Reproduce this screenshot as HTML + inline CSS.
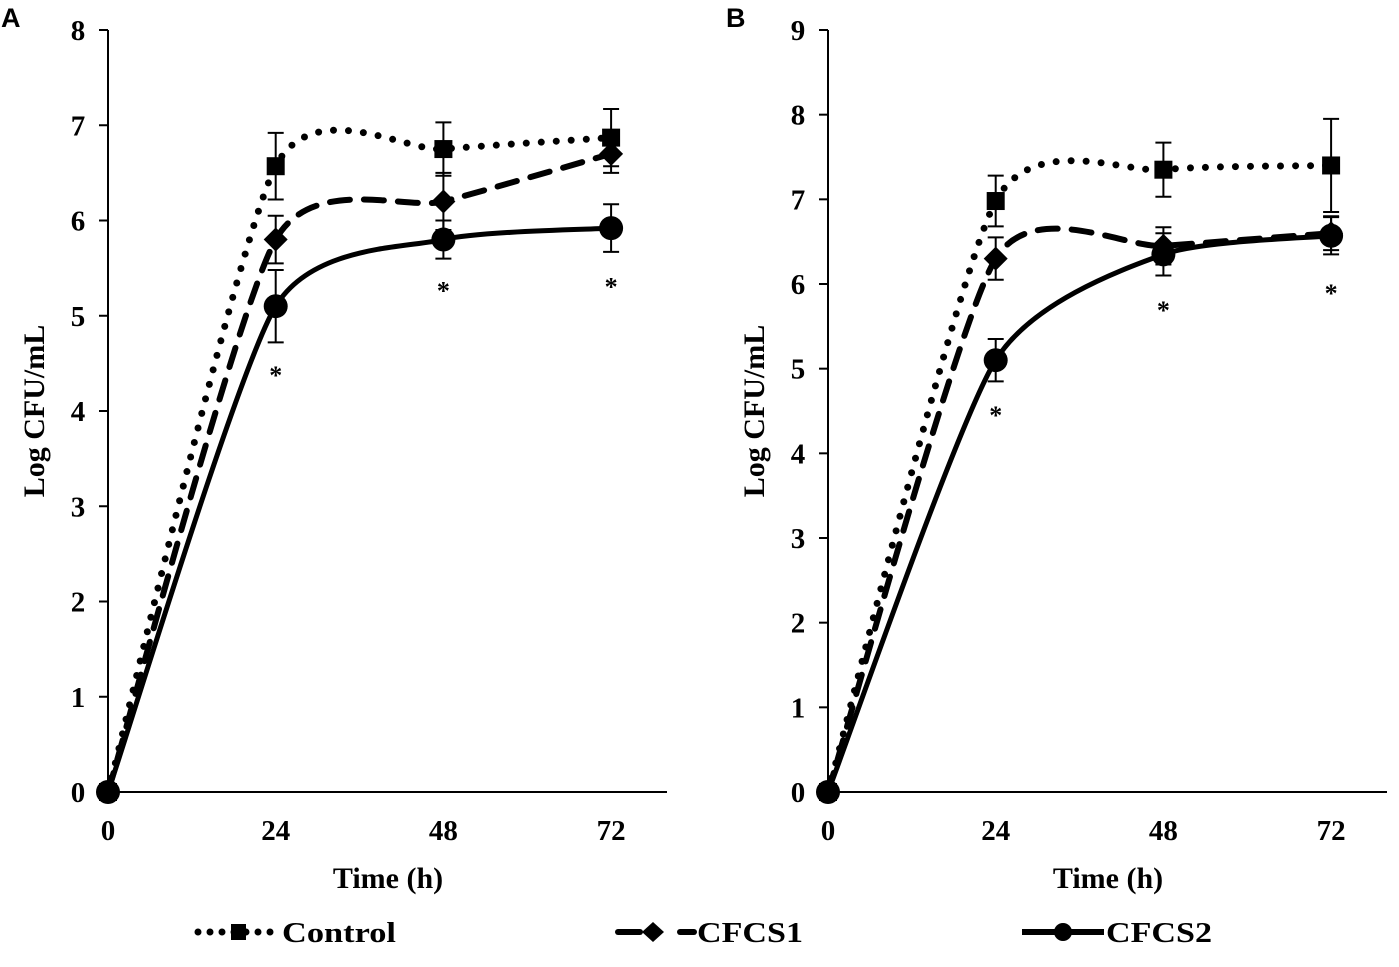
<!DOCTYPE html>
<html><head><meta charset="utf-8">
<style>
body{margin:0;background:#fff;}
svg text{font-family:"Liberation Serif",serif;font-weight:bold;fill:#000;}
</style></head>
<body>
<svg id="chart" width="1399" height="962" viewBox="0 0 1399 962" xmlns="http://www.w3.org/2000/svg">
<text x="1" y="27" style="font-family:'Liberation Sans',sans-serif;font-size:27px">A</text>
<text x="726" y="27" style="font-family:'Liberation Sans',sans-serif;font-size:27px">B</text>
<g id="legend">
  <g>
    <line x1="198" y1="932" x2="278" y2="932" stroke="#000" stroke-width="7" stroke-linecap="round" stroke-dasharray="0 12"/>
    <rect x="231" y="924" width="15" height="16" fill="#000"/>
    <text x="282" y="942" font-size="29" textLength="114" lengthAdjust="spacingAndGlyphs">Control</text>
  </g>
  <g>
    <line x1="618" y1="932" x2="640" y2="932" stroke="#000" stroke-width="6" stroke-linecap="round"/>
    <line x1="680" y1="932" x2="694" y2="932" stroke="#000" stroke-width="6" stroke-linecap="round"/>
    <path d="M653 922 L664 932 L653 942 L642 932 Z" fill="#000"/>
    <text x="697" y="942" font-size="29" textLength="106" lengthAdjust="spacingAndGlyphs">CFCS1</text>
  </g>
  <g>
    <line x1="1022" y1="932" x2="1104" y2="932" stroke="#000" stroke-width="6"/>
    <circle cx="1063" cy="932" r="9" fill="#000"/>
    <text x="1106" y="942" font-size="29" textLength="106" lengthAdjust="spacingAndGlyphs">CFCS2</text>
  </g>
</g>
</svg>
<script>
const times = [0, 24, 48, 72];
const xTicks = [0, 24, 48, 72];
const seriesNames = ["Control", "CFCS1", "CFCS2"];
const aControl = [0, 6.57, 6.75, 6.87];
const aControlErr = [0, 0.35, 0.28, 0.3];
const aCfcs1 = [0, 5.8, 6.2, 6.7];
const aCfcs1Err = [0, 0.25, 0.3, 0.2];
const aCfcs2 = [0, 5.1, 5.8, 5.92];
const aCfcs2Err = [0, 0.38, 0.2, 0.25];
const aStars = [4.43, 5.32, 5.36];
const bControl = [0, 6.98, 7.35, 7.4];
const bControlErr = [0, 0.3, 0.32, 0.55];
const bCfcs1 = [0, 6.3, 6.45, 6.6];
const bCfcs1Err = [0, 0.25, 0.22, 0.2];
const bCfcs2 = [0, 5.1, 6.35, 6.57];
const bCfcs2Err = [0, 0.25, 0.25, 0.22];
const bStars = [4.51, 5.75, 5.95];

const NS = "http://www.w3.org/2000/svg";
const svg = document.getElementById("chart");
function mk(tag, attrs, parent){
  const e = document.createElementNS(NS, tag);
  for (const k in attrs) e.setAttribute(k, attrs[k]);
  (parent || svg).appendChild(e);
  return e;
}
const styles = [
  {dash:"0 15", width:7, cap:"round", marker:"square"},
  {dash:"20 14", width:6, cap:"round", marker:"diamond"},
  {dash:"", width:5, cap:"butt", marker:"circle"}
];
const K = 1/9;
function drawPanel(id, x0, yMax, series, errs, stars){
  const left = x0, right = x0 + 559, top = 30, bottom = 792;
  const xs = t => left + (t / 80) * (right - left);
  const ys = v => bottom - (v / yMax) * (bottom - top);
  const g = mk("g", {});
  
  
  const ya = mk("line", {x1:left, y1:top, x2:left, y2:bottom, stroke:"#000", "stroke-width":2}, g);
  
  
  const xa = mk("line", {x1:left, y1:bottom, x2:right, y2:bottom, stroke:"#000", "stroke-width":2}, g);
  
  
  for (let v = 0; v <= yMax; v++){
    mk("line", {x1:left - 9, y1:ys(v), x2:left, y2:ys(v), stroke:"#000", "stroke-width":2}, g);
    const t = mk("text", {x:left - 30, y:ys(v) + 10, "font-size":29, "text-anchor":"middle"}, g);
    t.textContent = v;
    
    
  }
  xTicks.forEach(v => {
    const t = mk("text", {x:xs(v), y:840, "font-size":29, "text-anchor":"middle"}, g);
    t.textContent = v;
    
    
  });
  const xt = mk("text", {x:left + 280, y:888, "font-size":30, "text-anchor":"middle"}, g);
  xt.textContent = "Time (h)";
  
  
  const yt = mk("text", {x:0, y:0, "font-size":30, "text-anchor":"middle", transform:`translate(${left - 64},411) rotate(-90)`}, g);
  yt.textContent = "Log CFU/mL";
  
  

  series.forEach((vals, si) => {
    const st = styles[si];
    const P = vals.map((v, i) => [xs(times[i]), ys(v)]);
    let d = `M${P[0][0]},${P[0][1]}`;
    for (let i = 0; i < P.length - 1; i++){
      const p0 = P[Math.max(0, i - 1)], p1 = P[i], p2 = P[i + 1], p3 = P[Math.min(P.length - 1, i + 2)];
      const c1 = [p1[0] + (p2[0] - p0[0]) * K, p1[1] + (p2[1] - p0[1]) * K];
      const c2 = [p2[0] - (p3[0] - p1[0]) * K, p2[1] - (p3[1] - p1[1]) * K];
      d += ` C${c1[0]},${c1[1]} ${c2[0]},${c2[1]} ${p2[0]},${p2[1]}`;
    }
    const line = mk("path", {d:d, fill:"none", stroke:"#000", "stroke-width":st.width, "stroke-linecap":st.cap, "stroke-dasharray":st.dash}, g);
    
    
    vals.forEach((v, i) => {
      const cx = xs(times[i]), cy = ys(v), e = errs[si][i];
      if (e > 0){
        const eb = mk("path", {d:`M${cx},${ys(v + e)} V${ys(v - e)} M${cx - 8},${ys(v + e)} H${cx + 8} M${cx - 8},${ys(v - e)} H${cx + 8}`, stroke:"#000", "stroke-width":2, fill:"none"}, g);
        
        
      }
      let m;
      if (st.marker === "square") m = mk("rect", {x:cx - 9, y:cy - 9, width:18, height:18, fill:"#000"}, g);
      else if (st.marker === "diamond") m = mk("path", {d:`M${cx},${cy - 12} L${cx + 12},${cy} L${cx},${cy + 12} L${cx - 12},${cy} Z`, fill:"#000"}, g);
      else m = mk("circle", {cx:cx, cy:cy, r:12, fill:"#000"}, g);
      
      
    });
  });
  stars.forEach((v, i) => {
    const s = mk("text", {x:xs(times[i + 1]), y:ys(v) + 14, "font-size":26, "text-anchor":"middle"}, g);
    s.textContent = "*";
    
    
  });
}
drawPanel("a", 108, 8, [aControl, aCfcs1, aCfcs2], [aControlErr, aCfcs1Err, aCfcs2Err], aStars);
drawPanel("b", 828, 9, [bControl, bCfcs1, bCfcs2], [bControlErr, bCfcs1Err, bCfcs2Err], bStars);
</script>
</body></html>
